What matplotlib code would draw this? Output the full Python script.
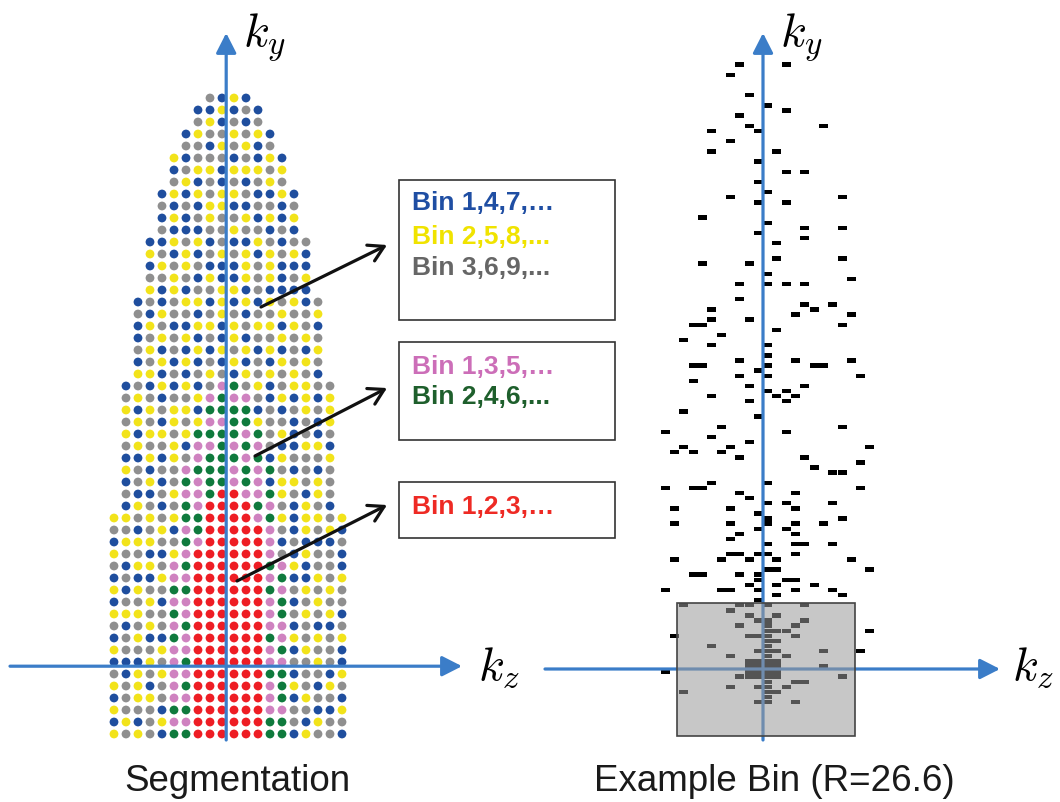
import numpy as np
import matplotlib.pyplot as plt
from matplotlib.patches import Rectangle

plt.rcParams['font.family'] = ['Liberation Sans', 'DejaVu Sans']
plt.rcParams['mathtext.fontset'] = 'cm'

# ---------------------------------------------------------------------------
# Left panel: colour code of every k-space sample, one string per k_y row
# (top row first). Rows are centred on the k_y axis.
# B blue, Y yellow, G grey, P pink, N green, R red
# ---------------------------------------------------------------------------
seg_rows = [
    "GBYB",
    "BBYBGB",
    "GYBGBG",
    "BYGGYGYB",
    "GGBYGYBG",
    "YBGGGBGBYB",
    "BGYYBYYYGY",
    "GYBGBGBGYG",
    "BYBYGYYGBBYB",
    "GBGBYYBBGGBG",
    "BYBGYGGYBYBY",
    "GBBBGGYGGBGB",
    "BBYGYBGBBYGBGG",
    "YGBYBGYGYBYGYB",
    "BYGYGBBBYGYBBB",
    "GGYGBYBBYGYBGY",
    "YBYBGGYYBGBBBB",
    "BGBGYYBYBYBYGYBG",
    "GBYGGBGYGBGGYGGY",
    "BYGBBYYBYGYYBYGB",
    "BGYGYBGBYBGGYGYG",
    "GYBGBYBYGYBYBGBY",
    "BGYBYBGBYBGBYGYG",
    "YYBGBGYGBYGYGYGB",
    "BGBYBYBGPNGYBGYYGG",
    "GYGBGGYPNPPGBYBYBY",
    "YBYGYYBNNNNBGBGYGY",
    "GYGBYGYPPNNYGGBGBY",
    "YBYYGYNNNNPNGYBGBG",
    "GYGGYBPPNPNPGBBYYB",
    "BBYBYGPNNNPNBYGGGY",
    "YGBGGPNNNPNPNGBGBG",
    "BGYBGNPNNPNPBYYGYG",
    "GBBGYPPNRRPPNYGBYG",
    "BYGBGNPRRRRNPGBYGB",
    "YYGYGYNNRRRRPNYBYYGY",
    "GGBGYBPNRRRRRPGBYGYB",
    "BYYYGGNPRRRRRPBGBBBG",
    "YGGBBYPRRRRRRPGBYGGB",
    "GBYYGPNRRRRRRNPYBGGB",
    "BGBBYPPRRRRRRPNBBYGY",
    "YBYGGNNRRRRRRNPGYGYG",
    "BGGYBPPRRRRRRPNBGYGG",
    "YYYGGNPRRRRRRPNGYGYB",
    "GBGYGPNRRRRRRPPBGBBG",
    "BGYBBNPRRRRRRNPYGYGY",
    "YGGGYPPRRRRRRPNBYGGB",
    "BBBYGPNRRRRRRPPGGYGB",
    "GBYGYPPRRRRRRNNBGGBY",
    "YGYBGPNRRRRRRPNYGBYG",
    "BGYYGPPRRRRRRPNBYGGB",
    "YGGGBNNRRRRRRPPGGBBY",
    "BYBGYPPRRRRRRNNGBYGG",
    "YGYGBNNRRRRRRNNBYGGB",
]
n_cols = 20

dot_colors = {'B': '#1f4e9e', 'Y': '#f2e31a', 'G': '#8f8f8f',
              'P': '#cf82c0', 'N': '#0f7a3d', 'R': '#ee1d24'}

# legend boxes: (text, colour) per line
box1_lines = [("Bin 1,4,7,…", '#1f4ea3'), ("Bin 2,5,8,...", '#f0e300'), ("Bin 3,6,9,...", '#666666')]
box2_lines = [("Bin 1,3,5,…", '#cc6eb8'), ("Bin 2,4,6,...", '#1e5f2c')]
box3_lines = [("Bin 1,2,3,…", '#ee2a24')]

# ---------------------------------------------------------------------------
# Right panel: occupied k-space cells of one example bin
# k_y row index -> list of k_z column indices (cell 0 is just right/above the axes)
# ---------------------------------------------------------------------------
bin_cells = {
    118: [-3, 2], 116: [-4], 112: [-2], 110: [0], 109: [2], 108: [-3],
    106: [-2, 6], 105: [-6, -1], 103: [-4], 101: [-6, 1], 99: [-1],
    97: [2, 4], 95: [-1], 93: [0], 92: [-4, 8], 91: [-1, 2], 88: [-7],
    87: [0], 86: [4, 8], 85: [-1], 84: [4], 83: [1], 80: [1, 8],
    79: [-7, -2], 77: [0], 76: [9], 75: [-3, 0, 2, 4], 72: [-3],
    71: [4, 7], 70: [-6, 5], 69: [3, 9], 68: [-6, -2], 67: [-8, -7, 8],
    66: [1], 65: [-5], 64: [-9],
    63: [-6, 0], 61: [0], 60: [-3, 3, 9], 59: [-8, -7, 0, 5, 6], 58: [-1],
    57: [-3, 0, 10], 56: [-8], 55: [-2, 4], 54: [0, 2], 53: [-6, 1, 3],
    52: [-2, 2], 50: [-9], 49: [-1], 47: [-5, 8], 46: [-11, 2], 45: [-6],
    44: [-2], 43: [-9, -4, 11], 42: [-10, -8, -5], 41: [-3, 4], 40: [10],
    39: [5], 38: [7, 8], 36: [-6, 0], 35: [-11, -8, -7, 10], 34: [-3, 3],
    33: [-2], 32: [0, 2, 7], 31: [-10, -4, 3], 30: [-1], 29: [0, 8],
    28: [-10, -4, 0, 3, 6], 27: [-1, 2], 26: [-3, 3], 25: [-4],
    24: [0, 3, 4, 7], 22: [-4, -3, -1, 0, 3], 21: [-10, -5, -2, 1, 9],
    19: [0, 1, 11], 18: [-8, -7, -3, -1], 17: [-1, 2, 3], 16: [-2, 1, 5],
    15: [-11, -5, -4, -1, 3, 7], 14: [1, 8], 13: [-1],
    12: [-9, -3, -2, 0, 4], 11: [-4], 10: [-2, 1], 9: [-1, 0, 4],
    8: [-3, 0, 3], 7: [0, 1, 2, 11], 6: [-10, -2, -1, 0, 3], 5: [0, 1],
    4: [-6, 0], 3: [-1, 0, 1, 6, 10], 2: [-4, 0, 2], 1: [-2, -1, 0, 1],
    0: [-2, -1, 0, 1, 6], -1: [-11, -2, -1, 0, 1], -2: [-3, -2, -1, 0, 1, 8],
    -3: [0, 3, 4], -4: [-4, -1, 0, 2], -5: [-9, 0, 1], -6: [0], -7: [-1, 0, 3],
}
# highlighted bin region (k_z from/to, k_y from/to) in cell units
bin_box = (-9.25, 9.9, -13.1, 12.94)

AXIS_BLUE = '#3b7dc8'
W, H = 1060, 802

fig = plt.figure(figsize=(W / 100, H / 100), dpi=100)

# ----- left panel (cell units: 12 px per cell) -----
lx0, ly0, ld = 114, 98, 12
axL = fig.add_axes([0, 0, 1, 1])
axL.set_xlim(-lx0 / ld, (W - lx0) / ld)
axL.set_ylim((H - ly0) / ld, -ly0 / ld)
axL.axis('off')

xs, ys, cs = [], [], []
for r, row in enumerate(seg_rows):
    start = (n_cols - len(row)) // 2
    for k, ch in enumerate(row):
        xs.append(start + k)
        ys.append(r)
        cs.append(dot_colors[ch])
axL.scatter(xs, ys, s=40, c=cs, linewidths=0, zorder=2)

kz0, ky0 = 9.35, 47.35
arrow_blue = dict(arrowstyle='-|>,head_length=0.55,head_width=0.28', color=AXIS_BLUE,
                  lw=2.3, mutation_scale=22, shrinkA=0, shrinkB=0)
axL.annotate('', xy=(kz0, (33 - ly0) / ld), xytext=(kz0, (740 - ly0) / ld),
             arrowprops=arrow_blue, zorder=3)
axL.annotate('', xy=((462 - lx0) / ld, ky0), xytext=((10 - lx0) / ld, ky0),
             arrowprops=arrow_blue, zorder=3)

# ----- right panel (cell units: 9.3 px wide, 5.1 px tall) -----
rx0, ry0, rdx, rdy = 763, 669, 9.3, 5.1
axR = fig.add_axes([0, 0, 1, 1])
axR.set_xlim(-rx0 / rdx, (W - rx0) / rdx)
axR.set_ylim((ry0 - H) / rdy, ry0 / rdy)
axR.axis('off')

cx, cy = [], []
for row, cols in bin_cells.items():
    for c in cols:
        cx.append(c)
        cy.append(row)
cx = np.array(cx)
cy = np.array(cy)
axR.bar(cx + 0.5, 0.88, bottom=cy + 0.06, width=0.97, color='black', zorder=2)

axR.annotate('', xy=(0, (ry0 - 33) / rdy), xytext=(0, (ry0 - 740) / rdy),
             arrowprops=arrow_blue, zorder=3)
axR.annotate('', xy=((1000 - rx0) / rdx, 0), xytext=((545 - rx0) / rdx, 0),
             arrowprops=arrow_blue, zorder=3)

bx0, bx1, by0, by1 = bin_box
axR.add_patch(Rectangle((bx0, by0), bx1 - bx0, by1 - by0, facecolor='#9a9a9a',
                        edgecolor='none', alpha=0.55, zorder=4))
axR.add_patch(Rectangle((bx0, by0), bx1 - bx0, by1 - by0, facecolor='none',
                        edgecolor='#444444', lw=1.2, zorder=5))

# ----- annotation overlay in pixel units -----
ov = fig.add_axes([0, 0, 1, 1])
ov.set_xlim(0, W)
ov.set_ylim(H, 0)
ov.axis('off')

boxes = [((399, 180, 615, 320), box1_lines, [203, 237, 268]),
         ((399, 342, 615, 440), box2_lines, [367, 397]),
         ((399, 482, 615, 538), box3_lines, [507])]
for (x0, y0, x1, y1), lines, ypos in boxes:
    ov.add_patch(Rectangle((x0, y0), x1 - x0, y1 - y0, facecolor='white',
                           edgecolor='#333333', lw=1.2, zorder=2))
    for (txt, col), yy in zip(lines, ypos):
        ov.text(412, yy, txt, color=col, fontsize=19, fontweight='bold',
                ha='left', va='center', zorder=3)

arrow_black = dict(arrowstyle='->,head_length=0.6,head_width=0.35', color='#111111',
                   lw=2.3, mutation_scale=18, shrinkA=0, shrinkB=0)
ov.annotate('', xy=(387, 245), xytext=(261, 307), arrowprops=arrow_black)
ov.annotate('', xy=(387, 388), xytext=(255, 456), arrowprops=arrow_black)
ov.annotate('', xy=(387, 505), xytext=(237, 581), arrowprops=arrow_black)

ov.text(243, 47, r'$k_y$', fontsize=34, ha='left', va='baseline')
ov.text(478, 680, r'$k_z$', fontsize=34, ha='left', va='baseline')
ov.text(780, 47, r'$k_y$', fontsize=34, ha='left', va='baseline')
ov.text(1012, 680, r'$k_z$', fontsize=34, ha='left', va='baseline')

ov.text(237, 791, 'Segmentation', fontsize=26.5, color='#1a1a1a',
        ha='center', va='baseline')
ov.text(774, 791, 'Example Bin (R=26.6)', fontsize=26.5, color='#1a1a1a',
        ha='center', va='baseline')

fig.savefig('out.png', dpi=100)
